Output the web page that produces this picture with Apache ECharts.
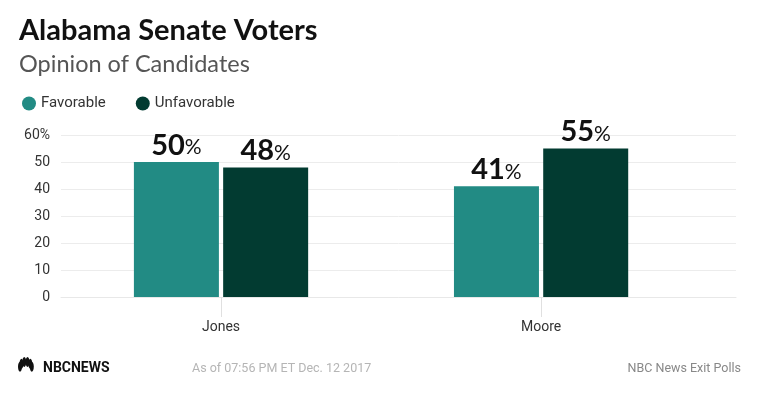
<!DOCTYPE html>
<html lang="en">
  <head>
    <meta charset="UTF-8" />
    <title>Alabama Senate Voters</title>
    <style type="text/css">
      body { margin: 0; background-color: #fff; }
      #main { width: 760px; height: 399px; }
    </style>
  </head>
  <body>
    <div id="main"></div>
    <script src="https://cdn.jsdelivr.net/npm/echarts@6/dist/echarts.min.js"></script>
    <script type="text/javascript">
      var candidates = ["Jones", "Moore"];
      var favorable = [50, 41];
      var unfavorable = [48, 55];
      var yTicks = [0, 10, 20, 30, 40, 50, 60];

      var chart = echarts.init(document.getElementById("main"));
      var font = "Lato";

      var barLabel = {
        show: true,
        position: "top",
        distance: 2,
        formatter: function (p) { return "{n|" + p.value[1] + "}{p|%}"; },
        rich: {
          n: { fontFamily: font, fontSize: 29, fontWeight: "bold", color: "#111" },
          p: { fontFamily: font, fontSize: 21, color: "#111", padding: [4, 0, 0, 0] }
        }
      };

      function pairs(vals) {
        return vals.map(function (v, i) { return [i, v]; });
      }

      var option = {
        animation: false,
        title: [
          {
            text: "Alabama Senate Voters",
            left: 14, top: 11,
            textStyle: { fontFamily: font, fontSize: 29, fontWeight: "bold", color: "#111" }
          },
          {
            text: "Opinion of Candidates",
            left: 14, top: 47,
            textStyle: { fontFamily: font, fontSize: 23.5, fontWeight: "normal", color: "#555" }
          },
          {
            text: "As of 07:56 PM ET Dec. 12 2017",
            left: 187, top: 357,
            textStyle: { fontFamily: "Roboto", fontSize: 12.5, fontWeight: "normal", color: "#b5b5b5" }
          },
          {
            text: "NBC News Exit Polls",
            right: 14, top: 357,
            textStyle: { fontFamily: "Roboto", fontSize: 12.5, fontWeight: "normal", color: "#888" }
          },
          {
            text: "NBCNEWS",
            left: 38, top: 356,
            textStyle: { fontFamily: "Roboto", fontSize: 14, fontWeight: "bold", color: "#111" }
          }
        ],
        legend: {
          left: 17, top: 91,
          icon: "circle",
          itemWidth: 14, itemHeight: 14,
          itemGap: 30,
          textStyle: { fontFamily: "Roboto", fontSize: 15, color: "#333" },
          data: ["Favorable", "Unfavorable"]
        },
        grid: { left: 61, right: 24, top: 135, bottom: 102, containLabel: false },
        xAxis: {
          type: "value",
          min: -0.5,
          max: 1.609,
          splitLine: { show: false },
          axisLine: { show: true, onZero: false, lineStyle: { color: "#e8e8e8" } },
          axisTick: { show: true, customValues: [0, 1], length: 20, lineStyle: { color: "#e0e0e0" } },
          axisLabel: {
            customValues: [0, 1],
            margin: 23,
            fontFamily: "Roboto", fontSize: 14, color: "#333",
            formatter: function (v) { return candidates[Math.round(v)]; }
          }
        },
        yAxis: {
          type: "value",
          min: 0, max: 60, interval: 10,
          axisLine: { show: false },
          axisTick: { show: false },
          splitLine: { lineStyle: { color: "#ececec" } },
          axisLabel: {
            margin: 11,
            fontFamily: "Roboto", fontSize: 14, color: "#333",
            formatter: function (v) { return v === yTicks[yTicks.length - 1] ? v + "%" : v; }
          }
        },
        series: [
          {
            name: "Favorable",
            type: "bar",
            barWidth: 85,
            barGap: "5%",
            itemStyle: { color: "#228b84" },
            label: barLabel,
            data: pairs(favorable)
          },
          {
            name: "Unfavorable",
            type: "bar",
            barWidth: 85,
            barGap: "5%",
            itemStyle: { color: "#023b31" },
            label: barLabel,
            data: pairs(unfavorable)
          }
        ],
        graphic: [
          {
            type: "group",
            left: 18, top: 357,
            children: [0, 1, 2, 3, 4, 5].map(function (i) {
              var a = Math.PI * (0.06 + i * 0.176);
              return {
                type: "ellipse",
                shape: { cx: 11 - Math.cos(a) * 6, cy: 13 - Math.sin(a) * 6, rx: 2, ry: 5 },
                style: { fill: "#111" }
              };
            })
          }
        ]
      };

      chart.setOption(option);
    </script>
  </body>
</html>
